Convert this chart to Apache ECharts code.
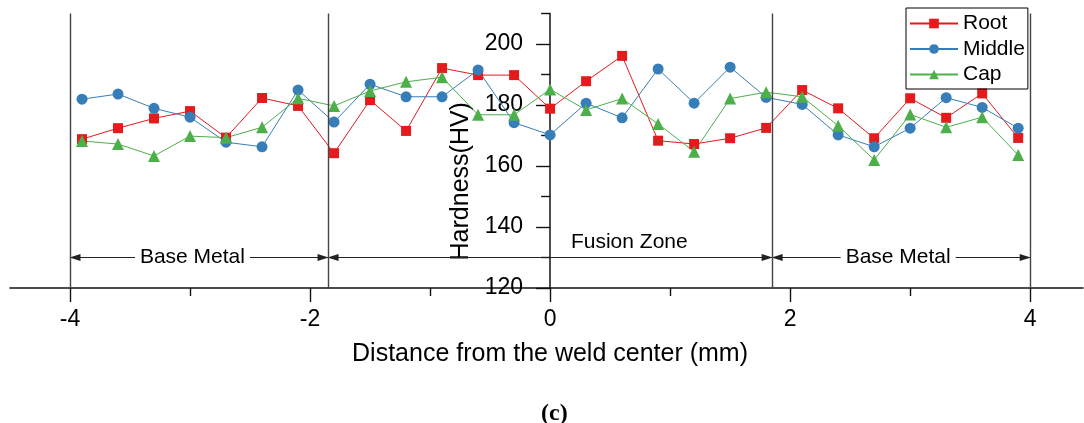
<!DOCTYPE html>
<html>
<head>
<meta charset="utf-8">
<script src="https://cdn.jsdelivr.net/npm/echarts@6/dist/echarts.min.js"></script>
<style>
  html, body { margin: 0; padding: 0; background: #fff; }
  #chart { width: 1084px; height: 423px; }
</style>
</head>
<body>
<div id="chart"></div>
<script>
// distance from weld center (mm)
const distances = [-3.9, -3.6, -3.3, -3.0, -2.7, -2.4, -2.1, -1.8, -1.5, -1.2, -0.9, -0.6, -0.3, 0,
  0.3, 0.6, 0.9, 1.2, 1.5, 1.8, 2.1, 2.4, 2.7, 3.0, 3.3, 3.6, 3.9];

// hardness (HV)
const root = [168.8, 172.4, 175.6, 178.0, 169.3, 182.3, 179.7, 164.2, 181.6, 171.5, 192.1, 189.8, 189.8, 178.8,
  187.8, 196.1, 168.3, 167.2, 169.1, 172.5, 184.9, 178.9, 169.1, 182.2, 175.8, 183.8, 169.2];
const middle = [181.9, 183.6, 178.9, 176.0, 167.8, 166.3, 184.9, 174.4, 186.8, 182.7, 182.7, 191.5, 174.2, 170.2,
  180.6, 175.8, 191.8, 180.6, 192.4, 182.5, 180.2, 170.2, 166.3, 172.4, 182.4, 179.2, 172.4];
const cap = [168.2, 167.2, 163.3, 169.8, 169.3, 172.7, 182.2, 179.7, 184.6, 187.6, 189.1, 176.8, 176.8, 185.1,
  178.4, 182.1, 173.8, 164.7, 182.1, 184.2, 182.7, 173.2, 162.0, 176.9, 172.7, 176.0, 163.6];

// axis ticks
const xTicks = [-4, -2, 0, 2, 4];
const xMinorTicks = [-3, -1, 1, 3];
const yTicks = [120, 140, 160, 180, 200];
const yMinorTicks = [130, 150, 170, 190, 210];

// zone boundaries and labels
const zoneBounds = [-4, -1.85, 1.85, 4];
const zoneNames = ['Base Metal', 'Fusion Zone', 'Base Metal'];
const zoneLabelX = [-2.98, 0.66, 2.9];
const zoneLabelY = [130, 135, 130];
const arrowLevel = 130;

const font = 'Liberation Sans, Arial, sans-serif';
const chart = echarts.init(document.getElementById('chart'));

const gridLeft = 10, gridRight = 1;
const xMin = -4.5, xMax = 4.44;
// y axis crosses x = 0: shift it from the grid's left edge into place
const plotWidth = 1084 - gridLeft - gridRight;
const yAxisOffset = -plotWidth * (0 - xMin) / (xMax - xMin);

function pairs(ys) {
  return distances.map((x, i) => [x, ys[i]]);
}

const arrowSegs = [];
for (let i = 0; i < zoneBounds.length - 1; i++) {
  arrowSegs.push([
    { coord: [zoneBounds[i], arrowLevel] },
    { coord: [zoneBounds[i + 1], arrowLevel] }
  ]);
}
const verticals = zoneBounds.map(x => [
  { coord: [x, 120], symbol: 'none' },
  { coord: [x, 210], symbol: 'none' }
]);

const lineSeries = (name, data, color, symbol, size) => ({
  name: name,
  type: 'line',
  data: pairs(data),
  symbol: symbol,
  symbolSize: size,
  color: color,
  lineStyle: { width: 1, color: color },
  itemStyle: { color: color },
  z: 3
});

const option = {
  animation: false,
  backgroundColor: '#fff',
  textStyle: { fontFamily: font },
  title: {
    text: '(c)',
    left: 536,
    top: 397,
    textStyle: { fontFamily: 'Liberation Serif, Times New Roman, serif', fontWeight: 'bold', fontSize: 24, color: '#000' }
  },
  legend: {
    data: ['Root', 'Middle', 'Cap'],
    orient: 'vertical',
    left: 906,
    top: 8,
    padding: [5, 3, 4, 3],
    itemWidth: 48,
    itemHeight: 12,
    itemGap: 4.5,
    borderColor: '#000',
    borderWidth: 1,
    textStyle: { fontSize: 21, color: '#000', fontFamily: font }
  },
  grid: { left: gridLeft, right: gridRight, top: 13.5, bottom: 135, containLabel: false, outerBoundsMode: 'none' },
  xAxis: [{
    type: 'value',
    position: 'bottom',
    min: xMin,
    max: xMax,
    name: 'Distance from the weld center (mm)',
    nameLocation: 'middle',
    nameGap: 54,
    nameTextStyle: { fontSize: 25, color: '#000', padding: [0, 0, 0, 7] },
    axisLine: { onZero: false, lineStyle: { color: '#111', width: 1.6 } },
    axisTick: { customValues: xTicks, length: 14, lineStyle: { color: '#111', width: 1.4 } },
    axisLabel: { customValues: xTicks, fontSize: 23, color: '#000', margin: 20 },
    splitLine: { show: false }
  }, {
    type: 'value',
    position: 'bottom',
    min: xMin,
    max: xMax,
    axisLine: { show: false, onZero: false },
    axisTick: { customValues: xMinorTicks, length: 8, lineStyle: { color: '#111', width: 1.4 } },
    axisLabel: { show: false },
    splitLine: { show: false }
  }],
  yAxis: [{
    type: 'value',
    position: 'left',
    offset: yAxisOffset,
    min: 120,
    max: 210,
    name: 'Hardness(HV)',
    nameLocation: 'middle',
    nameGap: 71,
    nameTextStyle: { fontSize: 25, color: '#000', padding: [0, 61, 0, 0] },
    axisLine: { onZero: false, lineStyle: { color: '#111', width: 1.5 } },
    axisTick: { customValues: yTicks, length: 14, lineStyle: { color: '#111', width: 1.4 } },
    axisLabel: { customValues: yTicks, fontSize: 23, color: '#000', margin: 27 },
    splitLine: { show: false }
  }, {
    type: 'value',
    position: 'left',
    offset: yAxisOffset,
    min: 120,
    max: 210,
    axisLine: { show: false, onZero: false },
    axisTick: { customValues: yMinorTicks, length: 9, lineStyle: { color: '#111', width: 1.4 } },
    axisLabel: { show: false },
    splitLine: { show: false }
  }],
  series: [
    {
      name: 'zones',
      type: 'line',
      data: [],
      z: 1,
      markLine: {
        silent: true,
        symbol: ['triangle', 'triangle'],
        symbolSize: [7, 11],
        symbolOffset: [[0, 5], [0, 5]],
        label: { show: false },
        lineStyle: { color: '#222', width: 1, type: 'solid' },
        itemStyle: { color: '#111' },
        data: arrowSegs
      }
    },
    {
      name: 'bounds',
      type: 'line',
      data: [],
      z: 1,
      markLine: {
        silent: true,
        symbol: 'none',
        label: { show: false },
        lineStyle: { color: '#444', width: 1.4, type: 'solid' },
        data: verticals
      }
    },
    {
      name: 'zoneLabels',
      type: 'scatter',
      symbolSize: 0,
      zlevel: 1,
      z: 4,
      data: zoneNames.map((n, i) => ({ name: n, value: [zoneLabelX[i], zoneLabelY[i]] })),
      label: {
        show: true,
        position: [0, 0],
        align: 'center',
        verticalAlign: 'middle',
        formatter: p => p.name,
        fontSize: 21,
        color: '#000',
        opacity: 1,
        textBorderWidth: 0,
        backgroundColor: '#fff',
        padding: [0, 5]
      }
    },
    lineSeries('Root', root, '#e41a1c', 'rect', 10),
    lineSeries('Middle', middle, '#377eb8', 'circle', 11),
    lineSeries('Cap', cap, '#4daf4a', 'triangle', 12)
  ]
};

chart.setOption(option);
</script>
</body>
</html>
